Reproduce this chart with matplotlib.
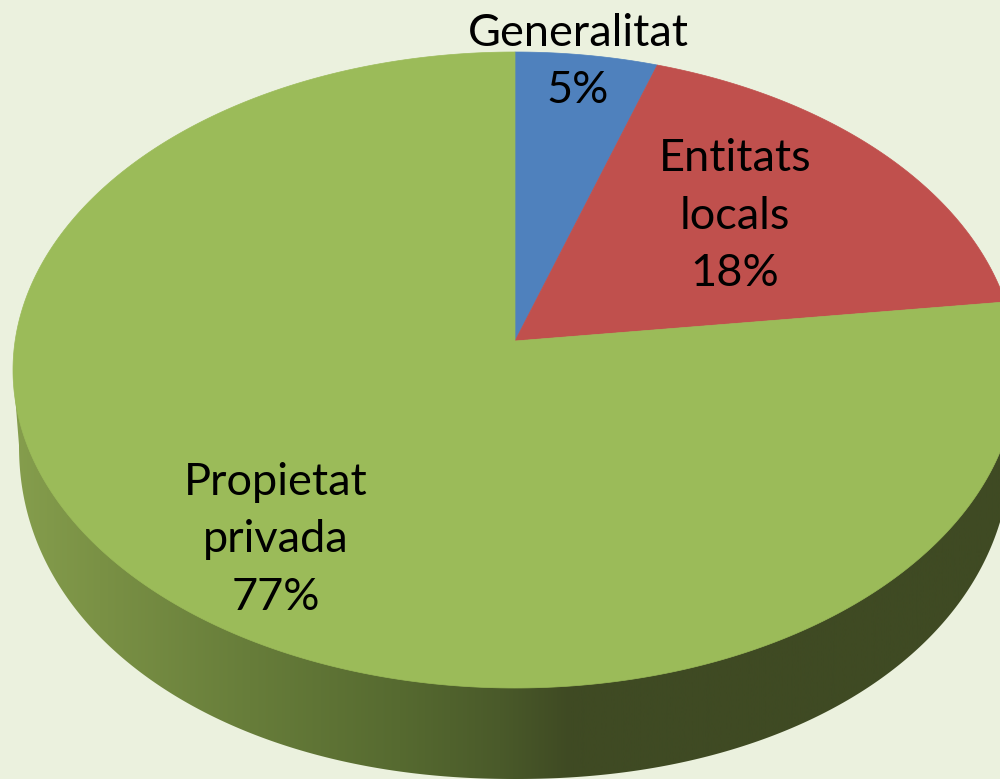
import matplotlib
matplotlib.use('Agg')
import matplotlib.pyplot as plt
import numpy as np
from matplotlib.colors import LinearSegmentedColormap
from matplotlib.patches import Polygon

labels = ['Generalitat', 'Entitats\nlocals', 'Propietat\nprivada']
values = [5, 18, 77]
colors = ['#4F81BD', '#C0504D', '#9BBB59']
label_pos = [(578, 62), (735, 216), (276, 540)]

BG = '#EBF1DE'
# cara superior i base, en pixels de la imatge
CX, CY, RX, RY = 515, 370, 502, 318
BX, BY, BRX, BRY = 515, 445, 496, 334
APEX = (515, 341)
TILT = 0.63

side_x = [0.0, 0.1, 0.25, 0.4, 0.5, 0.57, 1.0]
side_colors = ['#87A04E', '#7A9145', '#677D3A', '#566A30',
               '#4A5A2A', '#3F4A23', '#3F4A23']


def rim_point(theta):
    '''Punt de la vora on talla el raig que surt del vertex'''
    dx, dy = np.sin(theta), -TILT * np.cos(theta)
    ox, oy = (APEX[0] - CX) / RX, (APEX[1] - CY) / RY
    ux, uy = dx / RX, dy / RY
    a = ux ** 2 + uy ** 2
    b = 2 * (ox * ux + oy * uy)
    c = ox ** 2 + oy ** 2 - 1
    t = (-b + np.sqrt(b ** 2 - 4 * a * c)) / (2 * a)
    return APEX[0] + t * dx, APEX[1] + t * dy


def draw_side(ax):
    t = np.linspace(0, np.pi, 400)
    p = 2 / 2.1
    low = np.column_stack([BX - BRX * np.sign(np.cos(t)) * np.abs(np.cos(t)) ** p,
                           BY + BRY * np.sin(t) ** p])
    pts = np.vstack([[CX - RX, CY], low, [CX + RX, CY]])
    patch = Polygon(pts, closed=True, fc='none', ec='none')
    ax.add_patch(patch)
    cmap = LinearSegmentedColormap.from_list('side', list(zip(side_x, side_colors)), N=1024)
    grad = np.linspace(0, 1, 1024).reshape(1, -1)
    img = ax.imshow(grad, cmap=cmap, extent=(0, 1000, 800, 300), aspect='auto', zorder=1)
    img.set_clip_path(patch)


def draw_slices(ax):
    start = 0
    total = sum(values)
    for value, color in zip(values, colors):
        th = np.linspace(start, start + value, 400) / total * 2 * np.pi
        rim = np.array([rim_point(a) for a in th])
        pts = np.vstack([APEX, rim])
        ax.add_patch(Polygon(pts, closed=True, fc=color, ec=color, lw=0.5, zorder=2))
        start += value


fig = plt.figure(figsize=(10, 7.79), dpi=100, facecolor=BG)
ax = fig.add_axes([0, 0, 1, 1])
draw_side(ax)
draw_slices(ax)

for label, value, (x, y) in zip(labels, values, label_pos):
    ax.text(x, y, f'{label}\n{value}%', ha='center', va='center', ma='center',
            fontsize=32.5, family='Lato', color='black', linespacing=1.49, zorder=3)

ax.set_xlim(0, 1000)
ax.set_ylim(779, 0)
ax.axis('off')

fig.savefig('out.png', dpi=100, facecolor=BG)
